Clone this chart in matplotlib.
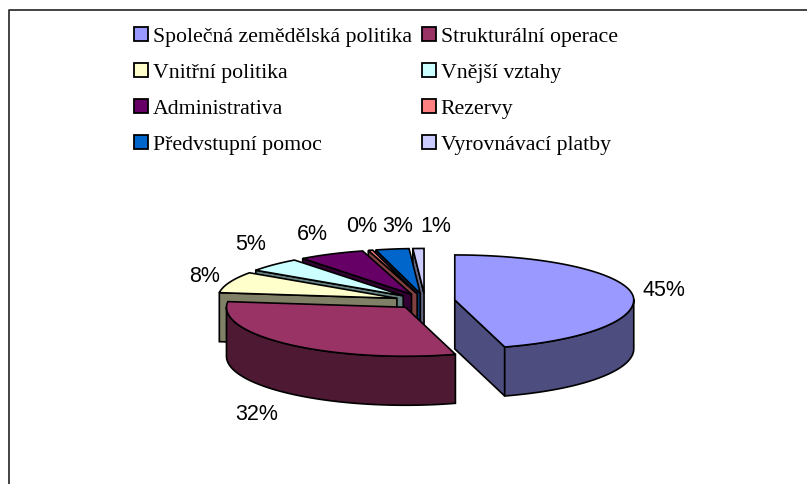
import numpy as np
import matplotlib
matplotlib.use('Agg')
import matplotlib.pyplot as plt
from matplotlib.patches import Polygon, Patch

categories = ['Společná zemědělská politika', 'Strukturální operace', 'Vnitřní politika', 'Vnější vztahy',
              'Administrativa', 'Rezervy', 'Předvstupní pomoc', 'Vyrovnávací platby']
values = [45.5, 31.5, 7.6, 5.0, 6.0, 0.4, 3.0, 1.0]
pct_labels = ['45%', '32%', '8%', '5%', '6%', '0%', '3%', '1%']
top_colors = ['#9999FF', '#993366', '#FFFFCC', '#CCFFFF', '#660066', '#FF8080', '#0066CC', '#CCCCFF']
side_colors = ['#4D4D80', '#4D1933', '#808066', '#668080', '#330033', '#804040', '#003366', '#666680']

# pie layout, in pixels
cx, cy = 425, 301
rx = 179
ry_back, ry_front = 45, 49
depth = 49
explode = 0.168
label_pos = [(664, 291), (257, 415), (205, 277), (251, 245), (312, 235), (362, 227), (398, 227), (436, 227)]


def pt(ang, r=1.0):
    # angle clockwise from 12 o'clock, y pointing down
    ry = ry_back if np.cos(ang) > 0 else ry_front
    return np.array([r * rx * np.sin(ang), -r * ry * np.cos(ang)])


def draw_wall(ax, pts, color, z):
    # keep only the part of the wall turned towards the viewer
    keep = [(p, q) for p, q in zip(pts[:-1], pts[1:]) if q[0] - p[0] < 0]
    if not keep:
        return
    run = np.array([keep[0][0]] + [q for p, q in keep])
    low = run[::-1] + [0, depth]
    ax.add_patch(Polygon(np.vstack([run, low]), closed=True, fc=color, ec='k', lw=1.2,
                         joinstyle='miter', zorder=z))


fig = plt.figure(figsize=(8.07, 4.84), dpi=100)
ax = fig.add_axes([0, 0, 1, 1])
ax.set_xlim(0, 807)
ax.set_ylim(484, 0)
ax.axis('off')

# chart frame, cut off by the picture on the right and at the bottom
ax.plot([8.8, 8.8, 807], [484, 9.5, 9.5], color='#222222', lw=1.2, solid_capstyle='butt')

edges = np.cumsum([0] + values) / sum(values) * 2 * np.pi
for i in range(len(values) - 1, -1, -1):
    a0, a1 = edges[i], edges[i + 1]
    mid = (a0 + a1) / 2
    apex = np.array([cx, cy]) + explode * pt(mid)
    arc = np.array([apex + pt(a) for a in np.linspace(a0, a1, 80)])
    z = 2 + (7 - i) * 2
    draw_wall(ax, np.array([apex, arc[0]]), side_colors[i], z)
    draw_wall(ax, np.array([arc[-1], apex]), side_colors[i], z)
    draw_wall(ax, arc, side_colors[i], z)
    ax.add_patch(Polygon(np.vstack([apex, arc]), closed=True, fc=top_colors[i], ec='k', lw=1.2,
                         joinstyle='miter', zorder=z + 1))

for (x, y), s in zip(label_pos, pct_labels):
    ax.text(x, y, s, family='Liberation Sans', fontsize=15.5, ha='center', va='center', zorder=40)

handles = [Patch(fc=c, ec='k', lw=1.3) for c in top_colors]
order = [0, 2, 4, 6, 1, 3, 5, 7]
ax.legend([handles[k] for k in order], [categories[k] for k in order], ncols=2, frameon=False,
          loc='upper left', bbox_to_anchor=(134 / 807, 1 - 27 / 484), borderaxespad=0, borderpad=0,
          prop={'family': 'Liberation Serif', 'size': 15.7}, handlelength=0.62, handleheight=0.62,
          handletextpad=0.24, columnspacing=0.47, labelspacing=0.745)

fig.savefig('out.png', dpi=100)
